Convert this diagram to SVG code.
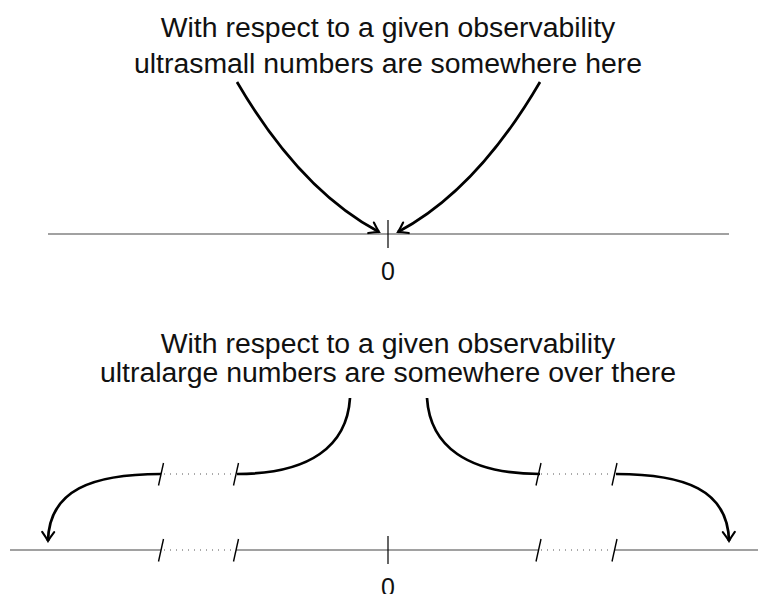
<svg xmlns="http://www.w3.org/2000/svg" width="758" height="594" viewBox="0 0 758 594">
<defs>
<style>
.lbl{font-family:"Liberation Sans",Arial,sans-serif;font-size:28.4px;fill:#111;text-anchor:middle}
.zero{font-family:"Liberation Sans",Arial,sans-serif;font-size:25px;fill:#111;text-anchor:middle}
.axis{stroke:#444;stroke-width:1.2;fill:none}
.tick{stroke:#000;stroke-width:1.2;fill:none}
.slash{stroke:#000;stroke-width:1.4;fill:none}
.dots{stroke:#555;stroke-width:1;stroke-dasharray:1 5;fill:none}
.curve{stroke:#000;stroke-width:2.7;fill:none;stroke-linecap:butt}
.arrow{marker-end:url(#tip)}
</style>
<marker id="tip" viewBox="-12 -9 14 18" refX="0" refY="0" markerWidth="14" markerHeight="18" markerUnits="userSpaceOnUse" orient="auto">
<path d="M-9,-6 Q-3.5,-2 0,0 Q-3.5,2 -9,6" fill="none" stroke="#000" stroke-width="2.1" stroke-linecap="round"/>
</marker>
</defs>
<rect width="758" height="594" fill="#fff"/>

<g id="top-label">
<text class="lbl" x="388" y="37">With respect to a given observability</text>
<text class="lbl" x="388" y="73">ultrasmall numbers are somewhere here</text>
</g>
<g id="top-axis">
<line class="axis" x1="48" y1="234" x2="729" y2="234"/>
<line class="tick" x1="388" y1="220" x2="388" y2="248"/>
</g>
<g id="top-zero">
<text class="zero" x="388" y="280">0</text>
</g>

<g id="bottom-label">
<text class="lbl" x="388" y="353">With respect to a given observability</text>
<text class="lbl" x="388" y="382">ultralarge numbers are somewhere over there</text>
</g>
<g id="bottom-axis">
<line class="axis" x1="10" y1="550" x2="161" y2="550"/>
<line class="dots" x1="164" y1="550" x2="234" y2="550"/>
<line class="axis" x1="236" y1="550" x2="538" y2="550"/>
<line class="dots" x1="541" y1="550" x2="612" y2="550"/>
<line class="axis" x1="615" y1="550" x2="758" y2="550"/>
<line class="tick" x1="388" y1="536" x2="388" y2="564"/>
<line class="slash" x1="158.5" y1="561.5" x2="163.5" y2="539"/>
<line class="slash" x1="233.5" y1="561.5" x2="238.5" y2="539"/>
<line class="slash" x1="536" y1="561.5" x2="541" y2="539"/>
<line class="slash" x1="612" y1="561.5" x2="617" y2="539"/>
</g>
<g id="bottom-zero">
<text class="zero" x="388" y="596">0</text>
</g>
<g id="upper-break">
<line class="dots" x1="164" y1="474" x2="234" y2="474"/>
<line class="dots" x1="541" y1="474" x2="612" y2="474"/>
<line class="slash" x1="158.5" y1="485.5" x2="163.5" y2="463"/>
<line class="slash" x1="233.5" y1="485.5" x2="238.5" y2="463"/>
<line class="slash" x1="536" y1="485.5" x2="541" y2="463"/>
<line class="slash" x1="612" y1="485.5" x2="617" y2="463"/>
</g>

<g id="connectors">
<path class="curve arrow" d="M237,82 Q300,190 379,232"/>
<path class="curve arrow" d="M540,82 Q477,190 398,232"/>
<path class="curve" d="M350,398 C347,446 310,474 237,474"/>
<path class="curve arrow" d="M161,474 C92,474 49,490 48,541"/>
<path class="curve" d="M427,398 C430,446 467,474 540,474"/>
<path class="curve arrow" d="M616,474 C685,474 728,490 729,541"/>
</g>
</svg>
